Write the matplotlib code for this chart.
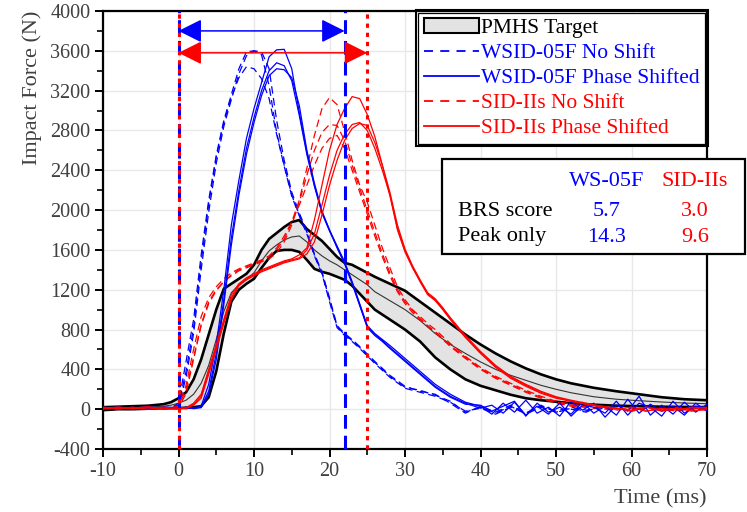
import matplotlib
matplotlib.use('Agg')
import matplotlib.pyplot as plt
from matplotlib.patches import Patch, Rectangle
from matplotlib.lines import Line2D
from matplotlib.ticker import MultipleLocator
from matplotlib.transforms import IdentityTransform
import numpy as np

# ---- PMHS target corridor ----
t_pmhs = [-10, -8, -6, -4, -2, -1, 0, 1, 2, 3, 4, 5, 6, 7, 8, 9, 10, 11, 12, 13, 14, 15, 16, 17, 18, 19, 20,
          21, 22, 23, 24, 25, 26, 28, 30, 32, 34, 36, 38, 40, 42, 44, 46, 48, 50, 52, 55, 58, 61, 64, 67, 70]
pmhs_upper = [20, 25, 30, 35, 50, 70,
              110, 170, 300, 500, 750, 1000, 1210, 1260, 1310, 1360, 1450, 1600, 1710, 1770, 1830, 1880, 1900,
              1810, 1750, 1690, 1610, 1530, 1470, 1450, 1410, 1370, 1330,
              1260, 1190, 1080, 970, 860, 750, 650, 560, 480, 410, 350, 300, 260,
              215, 180, 150, 120, 100, 90]
pmhs_lower = [-10, 0, 0, 5, 10, 10,
              10, 15, 20, 30, 120, 380, 760, 1080, 1200, 1260, 1310, 1420, 1520, 1590, 1600, 1600, 1580,
              1500, 1410, 1380, 1360, 1330, 1300, 1240, 1160, 1080, 1000,
              900, 800, 680, 520, 400, 300, 235, 190, 145, 110, 90, 75, 60,
              45, 35, 30, 25, 22, 20]
pmhs_mean = [5, 10, 15, 20, 30, 40,
             60, 90, 150, 260, 440, 700, 980, 1170, 1250, 1300, 1370, 1490, 1590, 1650, 1700, 1730, 1740,
             1680, 1600, 1540, 1490, 1450, 1400, 1350, 1300, 1250, 1180,
             1090, 1000, 890, 760, 650, 560, 475, 400, 340, 290, 240, 200, 165,
             125, 100, 85, 72, 62, 55]

# ---- WSID-05F phase shifted (3 tests) ----
t_ws_ps = [-10, -8, -6, -4, -2, 0, 1, 2, 3, 4, 5, 6, 7, 8, 9, 10, 11, 12, 13, 14, 15, 16, 17, 18, 19, 20,
           21, 22, 23, 24, 25, 26, 27, 28, 30, 32, 34, 36, 38, 40,
           41.5, 43, 44.5, 46, 47.5, 49, 50.5, 52, 53.5, 55, 56.5, 58, 59.5, 61, 62.5, 64, 65.5, 67, 68.5, 70]
ws_ps_a = [10, 20, 0, 15, 5,
           10, 15, 10, 30, 250, 650, 1200, 1850, 2300, 2720, 3020, 3280, 3540, 3610, 3615, 3420, 2980, 2580,
           2250, 1980, 1800, 1640, 1480, 1280, 1060, 840, 760, 700, 640,
           510, 380, 250, 150, 70, 30,
           -50, 60, -30, 90, -40, 20, -70, 80, -10, 60, -80, 40, -20, 130, -60, 40, -50, 70, -30, 50]
ws_ps_b = [20, 5, 15, 0, 20,
           15, 5, 15, 20, 180, 560, 1100, 1720, 2200, 2620, 2930, 3200, 3400, 3480, 3450, 3300, 2950, 2560,
           2240, 1970, 1790, 1630, 1470, 1270, 1050, 830, 750, 690, 620,
           490, 360, 230, 130, 60, 10,
           40, -40, 70, -60, 30, -50, 60, -70, 40, 20, -40, 80, -60, 60, 20, -70, 80, -40, 30, 10]
ws_ps_c = [5, 15, 10, 25, 10,
           5, 20, 5, 15, 150, 500, 1050, 1650, 2150, 2560, 2880, 3150, 3350, 3420, 3410, 3330, 3050, 2600,
           2270, 1990, 1800, 1620, 1460, 1260, 1040, 820, 740, 680, 610,
           480, 350, 220, 120, 50, 40,
           -20, 30, 80, -70, 60, -30, 20, -50, 70, -40, 30, -60, 100, -40, 50, -20, 30, -60, 60, -20]

# ---- WSID-05F no shift (3 tests) ----
t_ws_ns = [-10, -8, -6, -4, -2, -1, 0, 1, 2, 3, 4, 5, 6, 7, 8, 9, 10, 11, 12, 13, 14, 15, 16, 17, 18, 19,
           20, 21, 22, 23, 24, 26, 28, 30, 32, 34, 36, 38, 40, 42, 44, 46, 48, 50, 52, 54, 56, 58]
ws_ns_a = [10, 0, 20, 5, 15, 10,
           60, 480, 900, 1550, 2100, 2550, 2900, 3160, 3420, 3590, 3600, 3560, 3250, 2780, 2450, 2150, 1950,
           1780, 1550, 1370, 1100, 830, 750, 690, 620,
           470, 330, 220, 190, 140, 80, -30, 20, -40, 30, -50, 20, -30, 10, -20, 30, 0]
ws_ns_b = [5, 15, 5, 20, 10, 5,
           30, 320, 760, 1400, 1980, 2470, 2840, 3110, 3370, 3550, 3600, 3590, 3420, 2900, 2500, 2180, 1970,
           1790, 1560, 1380, 1120, 840, 760, 700, 630,
           480, 340, 230, 180, 150, 60, -40, 30, -30, 40, -40, 30, -20, 20, -10, 20, 10]
ws_ns_c = [15, 10, 0, 10, 20, 15,
           40, 380, 820, 1480, 2060, 2530, 2880, 3130, 3330, 3440, 3420, 3320, 3120, 2760, 2440, 2140, 1940,
           1760, 1540, 1360, 1080, 820, 740, 680, 610,
           460, 320, 210, 170, 130, 70, -20, 10, -50, 20, -40, 40, -30, 0, -30, 40, -10]

# ---- SID-IIs (shared time base) ----
t_sid = [-10, -8, -6, -4, -2, 0, 1, 2, 3, 4, 5, 6, 7, 8, 9, 10, 11, 12, 13, 14, 15, 16, 17, 18, 19, 20,
         21, 22, 23, 24, 25, 26, 27, 28, 29, 30, 31, 32, 33, 34, 35, 36,
         38, 40, 42, 44, 46, 48, 50, 52, 54, 56, 58, 60, 62, 64, 66, 68, 70]
sid_ps_a = [10, 20, 5, 15, 10,
            10, 15, 60, 150, 400, 650, 900, 1150, 1260, 1320, 1360, 1400, 1430, 1460, 1490, 1510, 1550, 1620,
            1900, 2250, 2600, 2860, 3020, 3140, 3120, 2960, 2740, 2450, 2150, 1800, 1580, 1420, 1280, 1150,
            1090, 1000, 900,
            720, 560, 420, 310, 230, 160, 110, 80, 50, 20, 10, -20, 20, -10, 10, -20, 0]
sid_ps_b = [20, 5, 15, 0, 20,
            5, 10, 50, 130, 380, 620, 890, 1120, 1250, 1310, 1350, 1390, 1420, 1450, 1480, 1500, 1520, 1600,
            1760, 2050, 2350, 2600, 2760, 2860, 2880, 2800, 2620, 2400, 2150, 1820, 1590, 1430, 1290, 1160,
            1100, 1010, 910,
            730, 570, 430, 320, 240, 170, 120, 80, 50, 30, 0, 20, -20, 10, -10, 20, 10]
sid_ps_c = [5, 15, 10, 25, 5,
            15, 5, 40, 110, 350, 600, 860, 1100, 1240, 1300, 1340, 1380, 1410, 1440, 1470, 1490, 1510, 1560,
            1680, 1950, 2250, 2500, 2700, 2820, 2870, 2850, 2680, 2450, 2180, 1850, 1610, 1440, 1300, 1170,
            1110, 1020, 920,
            740, 580, 440, 330, 250, 180, 125, 90, 60, 30, 10, -10, 20, -20, 10, 0, 20]
sid_ns_a = [15, 5, 20, 10, 0,
            20, 200, 520, 850, 1080, 1200, 1280, 1350, 1400, 1430, 1460, 1490, 1530, 1600, 1710, 1880, 2100,
            2420, 2750, 3020, 3130, 3060, 2790, 2500, 2250, 2080, 1850, 1620, 1420, 1230, 1100, 1000, 930,
            860, 800, 730, 660,
            530, 420, 330, 260, 190, 130, 80, 50, 30, 20, 10, -10, 20, 0, -20, 10, 0]
sid_ns_b = [5, 20, 10, 0, 15,
            10, 160, 500, 840, 1060, 1190, 1280, 1340, 1390, 1420, 1450, 1480, 1510, 1570, 1680, 1850, 2080,
            2350, 2600, 2780, 2860, 2850, 2700, 2450, 2220, 2000, 1780, 1560, 1370, 1200, 1080, 990, 910,
            840, 780, 710, 640,
            520, 410, 320, 250, 180, 120, 70, 40, 20, 10, -10, 10, -20, 10, 0, -10, 10]
sid_ns_c = [10, 0, 15, 20, 5,
            30, 240, 600, 930, 1120, 1230, 1310, 1370, 1410, 1440, 1470, 1500, 1540, 1620, 1740, 1880, 2050,
            2250, 2450, 2620, 2720, 2750, 2620, 2400, 2180, 1960, 1740, 1530, 1340, 1180, 1060, 970, 900,
            830, 770, 700, 630,
            510, 400, 310, 240, 170, 110, 60, 30, 20, 0, 10, -20, 10, -10, 20, 0, -10]

# ---- markers / annotations ----
vline_start = 0
ws_end = 22
sid_end = 25
ws_arrow_y = 3800
sid_arrow_y = 3580

legend_labels = ['PMHS Target', 'WSID-05F No Shift', 'WSID-05F Phase Shifted',
                 'SID-IIs No Shift', 'SID-IIs Phase Shifted']
legend_colors = ['black', 'blue', 'blue', 'red', 'red']

table_cols = ['WS-05F', 'SID-IIs']
table_rows = ['BRS score', 'Peak only']
table_vals = [['5.7', '3.0'], ['14.3', '9.6']]

plt.rcParams['font.family'] = ['Liberation Serif', 'DejaVu Serif']
plt.rcParams['axes.unicode_minus'] = False

W, H = 747, 512
fig = plt.figure(figsize=(W / 100, H / 100), dpi=100)
ax = fig.add_axes([103 / W, 1 - 449 / H, 604 / W, 438 / H])

ax.fill_between(t_pmhs, pmhs_lower, pmhs_upper, color='#e3e3e3', lw=0, zorder=1)
ax.plot(t_pmhs, pmhs_upper, color='black', lw=1.9, zorder=2)
ax.plot(t_pmhs, pmhs_lower, color='black', lw=1.9, zorder=2)
ax.plot(t_pmhs, pmhs_mean, color='#333333', lw=0.8, zorder=2)

dash = (6, 3.5)
for y in (ws_ns_a, ws_ns_b, ws_ns_c):
    ax.plot(t_ws_ns, y, color='blue', lw=0.9, dashes=dash, zorder=3)
for y in (sid_ns_a, sid_ns_b, sid_ns_c):
    ax.plot(t_sid, y, color='red', lw=0.9, dashes=dash, zorder=3)
for y in (ws_ps_a, ws_ps_b, ws_ps_c):
    ax.plot(t_ws_ps, y, color='blue', lw=0.9, zorder=4)
for y in (sid_ps_a, sid_ps_b, sid_ps_c):
    ax.plot(t_sid, y, color='red', lw=0.9, zorder=4)

# vertical markers
ax.axvline(vline_start, color='blue', lw=2.2, dashes=(4.5, 2.3), zorder=5)
ax.axvline(vline_start, color='red', lw=2.2, dashes=(1.4, 1.6), zorder=5)
ax.axvline(ws_end, color='blue', lw=2.2, dashes=(4.5, 2.3), zorder=5)
ax.axvline(sid_end, color='red', lw=2.2, dashes=(1.4, 1.6), zorder=5)

arrow_style = '<|-|>,head_length=0.6,head_width=0.3'
ax.annotate('', xy=(ws_end, ws_arrow_y), xytext=(vline_start, ws_arrow_y),
            arrowprops=dict(arrowstyle=arrow_style, mutation_scale=24, color='blue', lw=1.1,
                            shrinkA=0, shrinkB=0), zorder=6)
ax.annotate('', xy=(sid_end, sid_arrow_y), xytext=(vline_start, sid_arrow_y),
            arrowprops=dict(arrowstyle=arrow_style, mutation_scale=24, color='red', lw=1.1,
                            shrinkA=0, shrinkB=0), zorder=6)

# axes styling
ax.set_xlim(-10, 70)
ax.set_ylim(-400, 4000)
ax.xaxis.set_major_locator(MultipleLocator(10))
ax.xaxis.set_minor_locator(MultipleLocator(5))
ax.yaxis.set_major_locator(MultipleLocator(400))
ax.yaxis.set_minor_locator(MultipleLocator(200))
ax.grid(True, which='major', color='#e8e8e8', lw=1.0)
ax.set_axisbelow(True)
for s in ax.spines.values():
    s.set_linewidth(1.6)
ax.tick_params(which='major', direction='out', length=6, width=1.4, labelsize=14.5,
               labelcolor='#404040', pad=3)
ax.tick_params(which='minor', direction='out', length=4, width=1.2)
ax.set_xlabel('Time (ms)', loc='right', fontsize=16, color='#404040', labelpad=6)
ax.set_ylabel('Impact Force (N)', loc='top', fontsize=16, color='#404040', labelpad=6)

# legend
handles = [Patch(facecolor='#e3e3e3', edgecolor='black', lw=1.5),
           Line2D([], [], color='blue', lw=1.3, dashes=(5, 4)),
           Line2D([], [], color='blue', lw=1.3),
           Line2D([], [], color='red', lw=1.3, dashes=(5, 4)),
           Line2D([], [], color='red', lw=1.3)]
leg = ax.legend(handles, legend_labels, loc='upper right', bbox_to_anchor=(0.997, 0.996),
                fontsize=15.5, frameon=True, fancybox=False, framealpha=1, edgecolor='black',
                handlelength=2.55, handletextpad=0.12, labelspacing=0.23, borderpad=0.25,
                borderaxespad=0)
leg.get_frame().set_linewidth(0.9)
leg.set_zorder(10)
for txt, c in zip(leg.get_texts(), legend_colors):
    txt.set_color(c)

# results table (figure pixel coordinates)
def fx(px):
    return px / W


def fy(py):
    return 1 - py / H


tbl_left, tbl_top, tbl_right, tbl_bottom = 442, 159, 745, 254
fig.add_artist(Rectangle((fx(tbl_left), fy(tbl_bottom)), fx(tbl_right) - fx(tbl_left),
                         fy(tbl_top) - fy(tbl_bottom), transform=fig.transFigure,
                         facecolor='white', edgecolor='black', lw=1.6, zorder=10))
col_x = [607, 695]
col_colors = ['blue', 'red']
row_y = [211, 237]
for name, x, c in zip(table_cols, col_x, col_colors):
    fig.text(fx(x), fy(182), name, color=c, fontsize=16, ha='center', va='center', zorder=11)
for r, (name, y) in enumerate(zip(table_rows, row_y)):
    fig.text(fx(458), fy(y), name, color='black', fontsize=16, ha='left', va='center', zorder=11)
    for j, (x, c) in enumerate(zip(col_x, col_colors)):
        fig.text(fx(x), fy(y), table_vals[r][j], color=c, fontsize=16, ha='center', va='center',
                 zorder=11)

# second outline around legend
fig.canvas.draw()
bb = leg.get_window_extent()
fig.add_artist(Rectangle((bb.x0 - 2.5, bb.y0 - 2.5), bb.width + 5, bb.height + 5,
                         transform=IdentityTransform(), fill=False, ec='black', lw=1.5, zorder=11))

fig.savefig('out.png', dpi=100)
